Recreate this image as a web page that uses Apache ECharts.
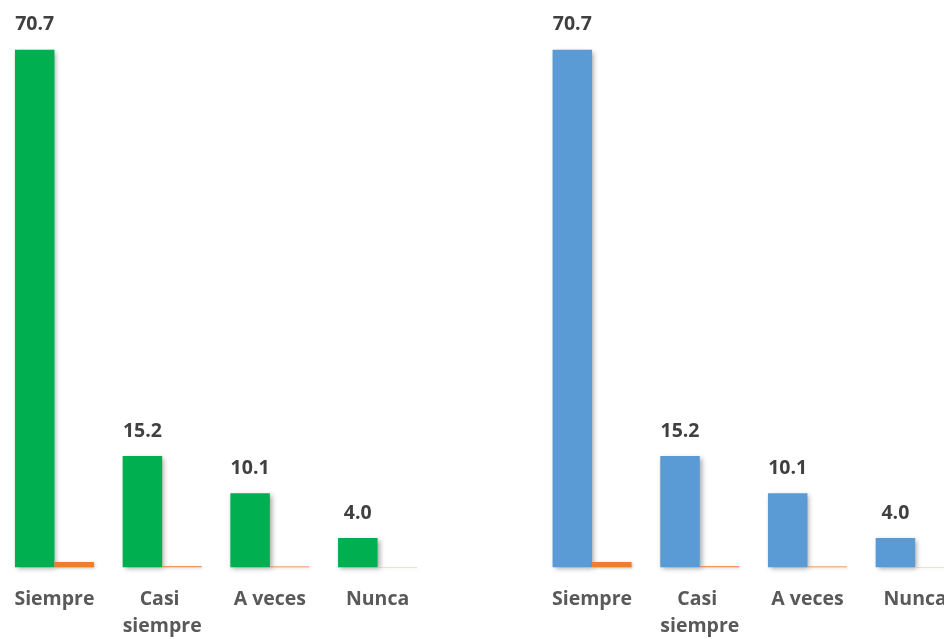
<!DOCTYPE html>
<html>
<head>
<meta charset="utf-8">
<script src="https://cdn.jsdelivr.net/npm/echarts@6/dist/echarts.min.js"></script>
<style>
  html, body { margin: 0; padding: 0; background: #fff; }
  #chart { width: 944px; height: 639px; }
</style>
</head>
<body>
<div id="chart"></div>
<script>
const categories = ['Siempre', 'Casi siempre', 'A veces', 'Nunca']
const percentValues = [70.7, 15.2, 10.1, 4.0]
const fractionValues = [0.707, 0.152, 0.101, 0.040]

const green = '#00B050'
const blue = '#5B9BD5'
const orange = '#ED7D31'
const fontFamily = '"Open Sans", sans-serif'

const chart = echarts.init(document.getElementById('chart'))

const barShadow = {
  shadowColor: 'rgba(0,0,0,0.35)',
  shadowBlur: 5,
  shadowOffsetX: 2,
  shadowOffsetY: 2
}

function xAxisFor(gridIndex) {
  return {
    type: 'category',
    gridIndex,
    data: categories,
    axisLine: { show: false },
    axisTick: { show: false },
    axisLabel: {
      interval: 0,
      margin: 19,
      color: '#595959',
      fontFamily,
      fontWeight: 'bold',
      fontSize: 19.5,
      lineHeight: 27,
      width: 100,
      overflow: 'break'
    }
  }
}

function yAxisFor(gridIndex) {
  return { type: 'value', gridIndex, min: 0, max: 77.5, show: false }
}

function mainSeries(idx, color) {
  return {
    type: 'bar',
    xAxisIndex: idx,
    yAxisIndex: idx,
    barWidth: 39.5,
    barGap: '0%',
    itemStyle: { color, ...barShadow },
    label: {
      show: true,
      position: 'top',
      distance: 15,
      color: '#404040',
      fontFamily,
      fontWeight: 'bold',
      fontSize: 19.5,
      lineHeight: 20,
      formatter: p => p.value.toFixed(1)
    },
    data: percentValues
  }
}

function fractionSeries(idx) {
  return {
    type: 'bar',
    xAxisIndex: idx,
    yAxisIndex: idx,
    barWidth: 39.5,
    barGap: '0%',
    itemStyle: { color: orange, shadowColor: 'rgba(0,0,0,0.25)', shadowBlur: 3, shadowOffsetX: 1, shadowOffsetY: 1 },
    data: fractionValues
  }
}

chart.setOption({
  backgroundColor: '#fff',
  animation: false,
  grid: [
    { left: 0.6, top: 0, width: 430.8, height: 567.3, outerBoundsMode: 'none' },
    { left: 538.2, top: 0, width: 430.8, height: 567.3, outerBoundsMode: 'none' }
  ],
  xAxis: [xAxisFor(0), xAxisFor(1)],
  yAxis: [yAxisFor(0), yAxisFor(1)],
  series: [
    mainSeries(0, green),
    fractionSeries(0),
    mainSeries(1, blue),
    fractionSeries(1)
  ]
})
</script>
</body>
</html>
